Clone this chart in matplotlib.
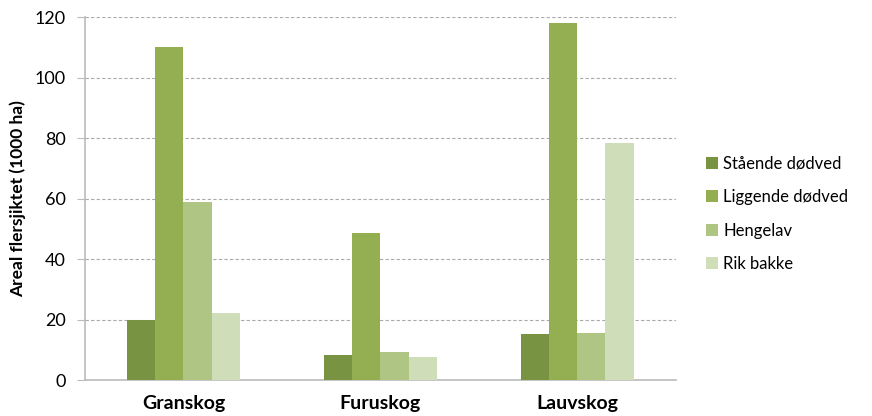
import matplotlib.pyplot as plt
import numpy as np

plt.rcParams['font.family'] = ['Lato', 'DejaVu Sans']

# Areal per skogtype og kategori
skogtyper = ['Granskog', 'Furuskog', 'Lauvskog']
kategorier = ['Stående dødved', 'Liggende dødved', 'Hengelav', 'Rik bakke']
staende = [19.8, 8.4, 15.2]
liggende = [110.0, 48.7, 117.9]
hengelav = [58.8, 9.3, 15.6]
rik_bakke = [22.2, 7.5, 78.4]
farger = ['#789342', '#93AF52', '#AEC584', '#CFDDB8']

serier = [staende, liggende, hengelav, rik_bakke]

fig = plt.figure(figsize=(8.72, 4.16), dpi=100)
ax = fig.add_axes([0.0975, 0.0865, 0.6775, 0.8725])

x = np.arange(len(skogtyper))
w = 0.143
for i, (verdier, navn, farge) in enumerate(zip(serier, kategorier, farger)):
    ax.bar(x + (i - 1.5) * w, verdier, width=w, color=farge, label=navn, zorder=3)

ax.set_xlim(-0.5, 2.5)
ax.set_ylim(0, 120)
ax.set_yticks(range(0, 121, 20))
ax.set_xticks(x)
ax.set_xticklabels(skogtyper, fontsize=14, fontweight='bold')
ax.tick_params(axis='x', length=0, pad=11)
ax.tick_params(axis='y', labelsize=13, color='#BBBBBB', length=6, pad=8)
ax.set_ylabel('Areal flersjiktet (1000 ha)', fontsize=12.5, fontweight='bold', labelpad=6)

ax.grid(axis='y', color='#AAAAAA', linestyle=(0, (3, 2)), linewidth=0.8, zorder=0)
for side in ['top', 'right']:
    ax.spines[side].set_visible(False)
for side in ['left', 'bottom']:
    ax.spines[side].set_color('#BBBBBB')
    ax.spines[side].set_linewidth(1.2)

ax.legend(loc='center left', bbox_to_anchor=(1.025, 0.458), frameon=False,
          fontsize=12, handlelength=0.75, handleheight=0.75, handletextpad=0.3,
          labelspacing=1.05)

fig.savefig('out.png', dpi=100)
